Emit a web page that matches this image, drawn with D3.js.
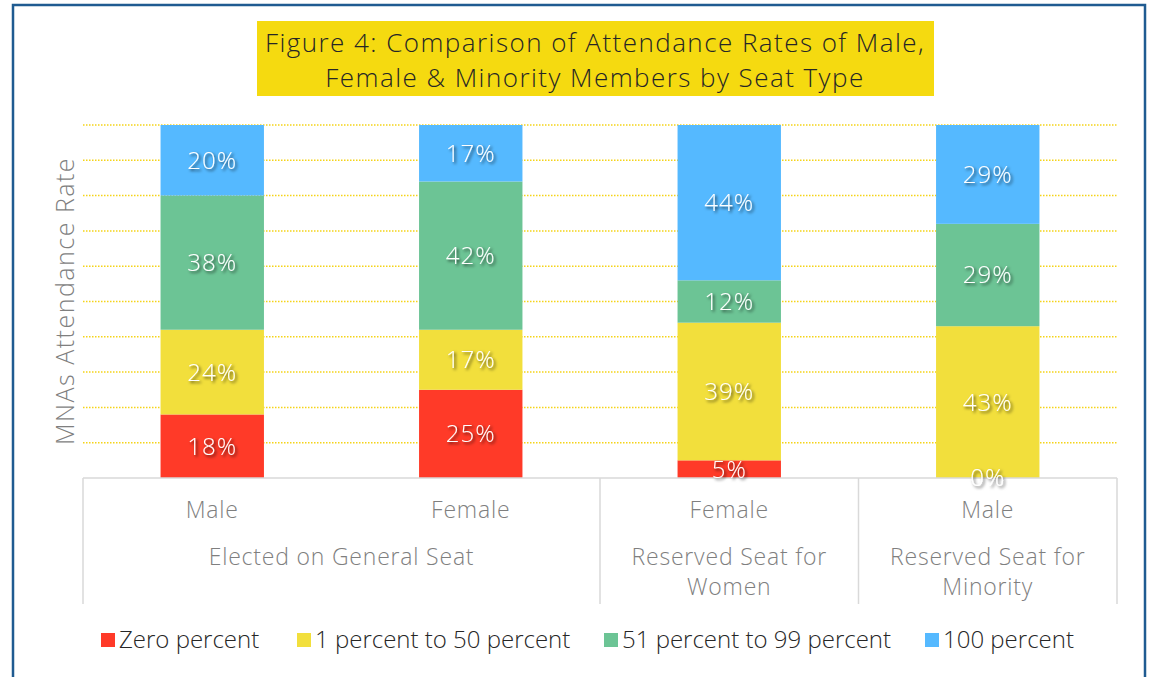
<!DOCTYPE html>
<html>
<head>
<meta charset="utf-8">
<script src="https://cdn.jsdelivr.net/npm/d3@7"></script>
<style>
  body { margin: 0; background: #fff; }
  text { font-family: "Open Sans", Lato, sans-serif; }
</style>
</head>
<body>
<div id="chart"></div>
<script>
// data
var genders = ["Male", "Female", "Female", "Male"];
var seatTypes = ["Elected on General Seat", "Reserved Seat for Women", "Reserved Seat for Minority"];
var seatOfBar = [0, 0, 1, 2];
var seriesNames = ["Zero percent", "1 percent to 50 percent", "51 percent to 99 percent", "100 percent"];
var zeroPct = [18, 25, 5, 0];
var oneTo50 = [24, 17, 39, 43];
var fiftyOneTo99 = [38, 42, 12, 29];
var hundredPct = [20, 17, 44, 29];
var yTicks = [0, 10, 20, 30, 40, 50, 60, 70, 80, 90, 100];

var colors = ["#ff3a28", "#f2df3c", "#6cc495", "#55b9ff"];

var W = 1150, H = 677;
var margin = { top: 125, right: 33, bottom: 199, left: 83 },
  width = W - margin.left - margin.right,
  height = 478 - margin.top;

var svg = d3.select("#chart").append("svg")
  .attr("width", W)
  .attr("height", H);

// shadow for the value labels
var defs = svg.append("defs");
var f = defs.append("filter").attr("id", "shadow")
  .attr("x", "-20%").attr("y", "-20%").attr("width", "140%").attr("height", "140%");
f.append("feDropShadow").attr("dx", 1.8).attr("dy", 1.8).attr("stdDeviation", 1.5)
  .attr("flood-color", "#000").attr("flood-opacity", 0.7);

// outer border
svg.append("rect")
  .attr("x", 13).attr("y", 5)
  .attr("width", 1132).attr("height", 700)
  .attr("fill", "none")
  .attr("stroke", "#1f5b91")
  .attr("stroke-width", 2.5);

// title box
svg.append("rect")
  .attr("x", 257).attr("y", 21)
  .attr("width", 677).attr("height", 75)
  .attr("fill", "#f5da10");
var titleLines = ["Figure 4: Comparison of Attendance Rates of Male,", "Female & Minority Members by Seat Type"];
svg.selectAll(".title")
  .data(titleLines)
  .enter().append("text")
  .attr("class", "title")
  .attr("x", 595)
  .attr("y", function (d, i) { return 52 + i * 35; })
  .attr("text-anchor", "middle")
  .attr("font-size", 26)
  .attr("font-weight", 300)
  .attr("letter-spacing", 1.45)
  .attr("fill", "#262626")
  .text(function (d) { return d; });

var g = svg.append("g").attr("transform", "translate(" + margin.left + "," + margin.top + ")");

var x = d3.scaleBand()
  .domain(d3.range(genders.length))
  .range([0, width])
  .paddingInner(0.6)
  .paddingOuter(0.3);

var y = d3.scaleLinear().domain([0, 100]).range([height, 0]);

// dotted gridlines
g.append("g")
  .selectAll("line")
  .data(yTicks.slice(1))
  .enter().append("line")
  .attr("x1", 0).attr("x2", width)
  .attr("y1", function (d) { return y(d); })
  .attr("y2", function (d) { return y(d); })
  .attr("stroke", "#f5d418")
  .attr("stroke-width", 1.5)
  .attr("stroke-dasharray", "1.5,1.5");

// stack the data
var table = genders.map(function (gd, i) {
  return { i: i, s0: zeroPct[i], s1: oneTo50[i], s2: fiftyOneTo99[i], s3: hundredPct[i] };
});
var stack = d3.stack().keys(["s0", "s1", "s2", "s3"]);
var layers = stack(table);

var layer = g.selectAll(".layer")
  .data(layers)
  .enter().append("g")
  .attr("class", "layer")
  .attr("fill", function (d, k) { return colors[k]; });

layer.selectAll("rect")
  .data(function (d) { return d; })
  .enter().append("rect")
  .attr("x", function (d) { return x(d.data.i); })
  .attr("y", function (d) { return y(Math.min(100, d[1])); })
  .attr("width", x.bandwidth())
  .attr("height", function (d) { return y(d[0]) - y(Math.min(100, d[1])); });

// category axis (two levels)
var axis = svg.append("g").attr("stroke", "#d9d9d9").attr("stroke-width", 1.5);
axis.append("line")
  .attr("x1", margin.left).attr("x2", margin.left + width)
  .attr("y1", 478).attr("y2", 478);
var seps = [0, 2, 3, 4];
axis.selectAll(".sep")
  .data(seps)
  .enter().append("line")
  .attr("class", "sep")
  .attr("x1", function (d) { return margin.left + d * x.step(); })
  .attr("x2", function (d) { return margin.left + d * x.step(); })
  .attr("y1", 478).attr("y2", 604);

svg.selectAll(".gender")
  .data(genders)
  .enter().append("text")
  .attr("class", "gender")
  .attr("x", function (d, i) { return margin.left + x(i) + x.bandwidth() / 2; })
  .attr("y", 518)
  .attr("text-anchor", "middle")
  .attr("font-size", 23)
  .attr("font-weight", 300)
  .attr("letter-spacing", 0.8)
  .attr("fill", "#7f7f7f")
  .text(function (d) { return d; });

var seatLines = [["Elected on General Seat"], ["Reserved Seat for", "Women"], ["Reserved Seat for", "Minority"]];
var seatCenters = seatTypes.map(function (s, k) {
  var idx = d3.range(genders.length).filter(function (i) { return seatOfBar[i] === k; });
  return margin.left + d3.mean(idx, function (i) { return x(i) + x.bandwidth() / 2; });
});
seatLines.forEach(function (lines, k) {
  var t = svg.append("text")
    .attr("x", seatCenters[k]).attr("y", 565)
    .attr("text-anchor", "middle")
    .attr("font-size", 23)
    .attr("font-weight", 300)
    .attr("letter-spacing", 0.8)
    .attr("fill", "#7f7f7f");
  lines.forEach(function (l, j) {
    t.append("tspan").attr("x", seatCenters[k]).attr("dy", j === 0 ? 0 : 30).text(l);
  });
});

// value labels, drawn on top of all bars
var labels = svg.append("g")
  .attr("transform", "translate(" + margin.left + "," + margin.top + ")");
labels.selectAll("g")
  .data(layers)
  .enter().append("g")
  .selectAll("text")
  .data(function (d) { return d; })
  .enter().append("text")
  .attr("x", function (d) { return x(d.data.i) + x.bandwidth() / 2; })
  .attr("y", function (d) { return y((d[0] + Math.min(100, d[1])) / 2); })
  .attr("dy", "0.35em")
  .attr("text-anchor", "middle")
  .attr("font-size", 24)
  .attr("font-weight", 300)
  .attr("letter-spacing", 1)
  .attr("fill", "#fff")
  .attr("filter", "url(#shadow)")
  .text(function (d) { return (d[1] - d[0]) + "%"; });

// y axis title
svg.append("text")
  .attr("transform", "translate(74,301) rotate(-90)")
  .attr("text-anchor", "middle")
  .attr("font-size", 25)
  .attr("font-weight", 300)
  .attr("letter-spacing", 1.5)
  .attr("fill", "#7f7f7f")
  .text("MNAs Attendance Rate");

// legend
var legendX = [101, 297, 604, 925];
var legend = svg.selectAll(".legend")
  .data(seriesNames)
  .enter().append("g")
  .attr("class", "legend")
  .attr("transform", function (d, i) { return "translate(" + legendX[i] + ",640)"; });
legend.append("rect")
  .attr("x", 0).attr("y", -7)
  .attr("width", 14).attr("height", 14)
  .attr("fill", function (d, i) { return colors[i]; });
legend.append("text")
  .attr("x", 18).attr("y", 0)
  .attr("dy", "0.35em")
  .attr("font-size", 24)
  .attr("font-weight", 300)
  .attr("letter-spacing", 0)
  .attr("fill", "#262626")
  .text(function (d) { return d; });
</script>
</body>
</html>
